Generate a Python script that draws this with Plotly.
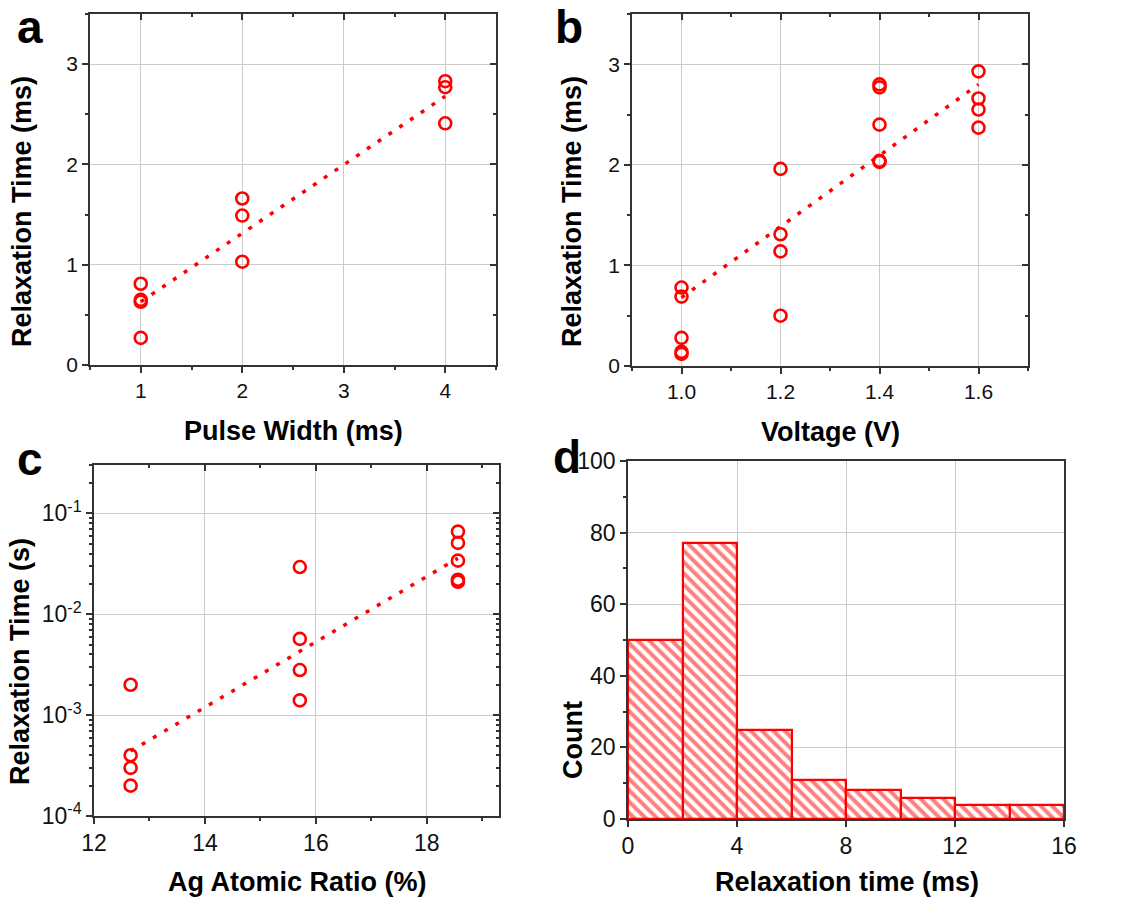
import plotly.graph_objects as go

# ---------------- data ----------------
# Panel a: relaxation time vs pulse width
pw_x = [1, 1, 1, 1, 2, 2, 2, 4, 4, 4]
pw_y = [0.81, 0.65, 0.63, 0.27, 1.66, 1.49, 1.03, 2.83, 2.77, 2.41]
pw_fit_x = [1, 4]
pw_fit_y = [0.63, 2.68]

# Panel b: relaxation time vs voltage
v_x = [1.0, 1.0, 1.0, 1.0, 1.0, 1.2, 1.2, 1.2, 1.2, 1.4, 1.4, 1.4, 1.4, 1.4, 1.6, 1.6, 1.6, 1.6]
v_y = [0.78, 0.69, 0.28, 0.14, 0.12, 1.96, 1.31, 1.14, 0.50, 2.80, 2.77, 2.40, 2.04, 2.03, 2.93, 2.66, 2.55, 2.37]
v_fit_x = [1.0, 1.6]
v_fit_y = [0.68, 2.80]

# Panel c: relaxation time vs Ag atomic ratio
ag_x = [12.66, 12.66, 12.66, 12.66, 15.71, 15.71, 15.71, 15.71, 18.56, 18.56, 18.56, 18.56, 18.56]
ag_y = [0.002, 0.0004, 0.0003, 0.0002, 0.0294, 0.0057, 0.0028, 0.0014, 0.066, 0.051, 0.034, 0.022, 0.021]
ag_fit_x = [12.66, 18.56]
ag_fit_y = [0.00044, 0.036]
c_tickvals = [1e-4, 1e-3, 1e-2, 1e-1]
c_ticktext = ["10<sup>-4</sup>", "10<sup>-3</sup>", "10<sup>-2</sup>", "10<sup>-1</sup>"]

# Panel d: histogram of relaxation time
bin_left = [0, 2, 4, 6, 8, 10, 12, 14]
bin_width = 2
counts = [50, 77, 25, 11, 8, 6, 4, 4]

# ---------------- style ----------------
W, H = 1135, 899
RED = "#ff0000"
AX = "#333333"
GRID = "#cccccc"
FONT = "Liberation Sans, Arial, sans-serif"
TICKF_TOP = dict(family=FONT, size=21, color="#111111")
TICKF_BOT = dict(family=FONT, size=23, color="#111111")


def fx(px):
    return px / W


def fy(py):
    return 1 - py / H


# panel pixel boxes (left, right, top, bottom)
boxes = {
    1: (90, 496, 14, 365),
    2: (632, 1028, 14, 366),
    3: (94, 499, 465, 816),
    4: (628, 1064, 461, 819),
}

fig = go.Figure()


def scatter_panel(n, xs, ys, fxs, fys):
    xa, ya = f"x{n}", f"y{n}"
    fig.add_trace(go.Scatter(x=fxs, y=fys, mode="lines", xaxis=xa, yaxis=ya,
                             line=dict(color=RED, width=3.5, dash="4px,9px"),
                             showlegend=False, hoverinfo="skip"))
    fig.add_trace(go.Scatter(x=xs, y=ys, mode="markers", xaxis=xa, yaxis=ya,
                             marker=dict(symbol="circle-open", size=12, color=RED,
                                         line=dict(color=RED, width=2.6)),
                             showlegend=False))


scatter_panel(1, pw_x, pw_y, pw_fit_x, pw_fit_y)
scatter_panel(2, v_x, v_y, v_fit_x, v_fit_y)
scatter_panel(3, ag_x, ag_y, ag_fit_x, ag_fit_y)

fig.add_trace(go.Bar(x=bin_left, y=counts, width=bin_width, offset=0,
                     xaxis="x4", yaxis="y4",
                     marker=dict(color="white",
                                 line=dict(color=RED, width=2.2),
                                 pattern=dict(shape="\\", fgcolor=RED, bgcolor="white",
                                              size=8, solidity=0.5)),
                     showlegend=False))

# empty traces for the mirror (top/right) axes
for n in range(1, 5):
    fig.add_trace(go.Scatter(x=[], y=[], xaxis=f"x{n+4}", yaxis=f"y{n+4}",
                             showlegend=False, hoverinfo="skip"))

log_minor = [m * 10.0 ** e for e in range(-4, 0) for m in range(2, 10)] + [0.2]

specs = {
    1: dict(xr=[0.5, 4.5], xt0=1, xdt=1, xm=0.5, yr=[0, 3.5], yt0=0, ydt=1, ym=0.5, log=False, xfmt=None),
    2: dict(xr=[0.9, 1.7], xt0=1.0, xdt=0.2, xm=0.1, yr=[0, 3.5], yt0=0, ydt=1, ym=0.5, log=False, xfmt=".1f"),
    3: dict(xr=[12, 19.3], xt0=12, xdt=2, xm=1, yr=[-4, -0.52], yt0=None, ydt=1, ym=None, log=True, xfmt=None),
    4: dict(xr=[0, 16], xt0=0, xdt=4, xm=2, yr=[0, 100], yt0=0, ydt=20, ym=10, log=False, xfmt=None),
}

layout_axes = {}
for n, s in specs.items():
    l, r, t, b = boxes[n]
    xdom = [fx(l), fx(r)]
    ydom = [fy(b), fy(t)]
    tf = TICKF_TOP if n <= 2 else TICKF_BOT
    xbase = dict(domain=xdom, range=s["xr"], tickmode="linear", tick0=s["xt0"], dtick=s["xdt"],
                 showline=True, linecolor=AX, linewidth=1.5, zeroline=False, automargin=False)
    xminor = dict(dtick=s["xm"], tick0=s["xt0"], ticklen=3, tickcolor=AX, showgrid=False)
    if s["log"]:
        ybase = dict(domain=ydom, type="log", range=s["yr"], tickmode="array",
                     tickvals=c_tickvals, ticktext=c_ticktext,
                     showline=True, linecolor=AX, linewidth=1.5, zeroline=False, automargin=False)
        yminor = dict(tickmode="array", tickvals=log_minor, ticklen=3, tickcolor=AX, showgrid=False)
    else:
        ybase = dict(domain=ydom, range=s["yr"], tickmode="linear", tick0=s["yt0"], dtick=s["ydt"],
                     showline=True, linecolor=AX, linewidth=1.5, zeroline=False, automargin=False)
        yminor = dict(dtick=s["ym"], tick0=s["yt0"], ticklen=3, tickcolor=AX, showgrid=False)

    xp = dict(xbase, anchor=f"y{n}", ticks="outside", ticklen=6, tickwidth=1.5, tickcolor=AX,
              showgrid=True, gridcolor=GRID, gridwidth=1, tickfont=tf,
              minor=dict(xminor, ticks="outside"))
    if s["xfmt"]:
        xp["tickformat"] = s["xfmt"]
    yp = dict(ybase, anchor=f"x{n}", ticks="outside", ticklen=6, tickwidth=1.5, tickcolor=AX,
              showgrid=True, gridcolor=GRID, gridwidth=1, tickfont=tf,
              minor=dict(yminor, ticks="outside"))
    xm = dict(xbase, anchor=f"y{n+4}", overlaying=f"x{n}", side="top", ticks="inside", ticklen=6,
              tickwidth=1.5, tickcolor=AX, showticklabels=False, showgrid=False,
              minor=dict(xminor, ticks="inside"))
    ym = dict(ybase, anchor=f"x{n+4}", overlaying=f"y{n}", side="right", ticks="inside", ticklen=6,
              tickwidth=1.5, tickcolor=AX, showticklabels=False, showgrid=False,
              minor=dict(yminor, ticks="inside"))
    if n == 4:
        xm["ticks"] = ""
        xm["minor"] = dict(ticks="")
        ym["ticks"] = ""
        ym["minor"] = dict(ticks="")
        xp["minor"] = dict(ticks="")
    layout_axes[f"xaxis{n}"] = xp
    layout_axes[f"yaxis{n}"] = yp
    layout_axes[f"xaxis{n+4}"] = xm
    layout_axes[f"yaxis{n+4}"] = ym

fig.update_layout(**layout_axes)

# ---------------- text ----------------
TITLEF = dict(family=FONT, size=27, color="#000000")
LETTERF = dict(family=FONT, size=46, color="#000000")

texts = [
    ("<b>Pulse Width (ms)</b>", 293, 431, 0, TITLEF),
    ("<b>Voltage (V)</b>", 830, 432, 0, TITLEF),
    ("<b>Ag Atomic Ratio (%)</b>", 297, 882, 0, TITLEF),
    ("<b>Relaxation time (ms)</b>", 847, 882, 0, TITLEF),
    ("<b>Relaxation Time (ms)</b>", 22, 212, -90, TITLEF),
    ("<b>Relaxation Time (ms)</b>", 572, 212, -90, TITLEF),
    ("<b>Relaxation Time (s)</b>", 20, 662, -90, TITLEF),
    ("<b>Count</b>", 573, 740, -90, TITLEF),
    ("<b>a</b>", 30, 27, 0, LETTERF),
    ("<b>b</b>", 569, 27, 0, LETTERF),
    ("<b>c</b>", 30, 459, 0, LETTERF),
    ("<b>d</b>", 567, 457, 0, LETTERF),
]
for txt, px, py, ang, f in texts:
    fig.add_annotation(text=txt, x=fx(px), y=fy(py), xref="paper", yref="paper",
                       xanchor="center", yanchor="middle", showarrow=False,
                       textangle=ang, font=f)

fig.update_layout(width=W, height=H, margin=dict(l=0, r=0, t=0, b=0),
                  paper_bgcolor="white", plot_bgcolor="white",
                  font=dict(family=FONT), bargap=0, showlegend=False)

fig.write_html("out.html", config={"displayModeBar": False},
               post_script="document.body.style.margin='0px';document.body.style.overflow='hidden';")
